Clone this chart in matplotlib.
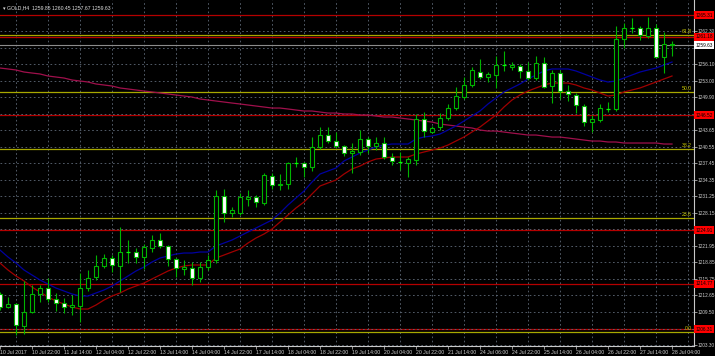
import matplotlib
matplotlib.use("Agg")
import matplotlib.pyplot as plt
import matplotlib.transforms as mtransforms

plt.rcParams['font.family'] = ['Liberation Sans', 'DejaVu Sans']

# GOLD H4 bars, 10 Jul - 28 Jul 2017
opens = [1212.89, 1210.44, 1211.00, 1206.87, 1209.50, 1212.89, 1214.02, 1211.95, 1211.19, 1210.44,
         1210.63, 1214.02, 1216.08, 1218.15, 1219.65, 1218.15, 1220.78, 1220.78, 1219.84, 1221.53,
         1223.03, 1221.90, 1219.46, 1217.58, 1217.77, 1215.89, 1217.96, 1219.27, 1231.30, 1228.11,
         1228.11, 1230.74, 1231.11, 1229.98, 1235.06, 1233.37, 1233.55, 1237.50, 1237.50, 1236.75,
         1240.50, 1242.76, 1241.63, 1240.69, 1239.37, 1239.56, 1242.01, 1240.69, 1241.25, 1238.62,
         1237.69, 1237.50, 1238.06, 1245.77, 1243.32, 1244.26, 1245.95, 1247.83, 1249.90, 1252.15,
         1254.60, 1253.66, 1254.03, 1255.91, 1255.53, 1255.72, 1254.78, 1253.47, 1256.29, 1251.97,
         1254.41, 1251.03, 1250.28, 1248.21, 1245.20, 1245.58, 1247.65, 1247.65, 1260.80, 1262.86,
         1262.86, 1261.36, 1262.86, 1257.41, 1259.85]
highs = [1213.26, 1212.32, 1211.20, 1215.33, 1214.58, 1214.58, 1215.89, 1213.08, 1212.13, 1212.72,
         1216.83, 1217.40, 1220.21, 1220.40, 1220.21, 1225.47, 1223.03, 1221.53, 1222.28, 1223.97,
         1224.35, 1222.10, 1219.70, 1219.27, 1218.90, 1218.90, 1220.21, 1232.43, 1232.61, 1229.24,
         1231.86, 1232.43, 1231.50, 1235.62, 1235.62, 1235.43, 1237.60, 1238.62, 1237.70, 1242.38,
         1244.26, 1244.26, 1243.32, 1240.80, 1241.25, 1243.70, 1242.38, 1242.38, 1242.38, 1239.37,
         1239.56, 1238.62, 1246.70, 1247.08, 1244.45, 1246.89, 1248.58, 1251.78, 1253.66, 1255.53,
         1257.04, 1254.60, 1257.60, 1258.54, 1256.47, 1256.10, 1256.47, 1257.60, 1257.41, 1254.97,
         1254.97, 1252.15, 1250.60, 1248.58, 1246.52, 1248.58, 1248.96, 1263.24, 1263.80, 1264.74,
         1263.24, 1264.93, 1263.60, 1262.11, 1260.45]
lows = [1209.90, 1210.25, 1205.18, 1205.40, 1209.30, 1211.38, 1211.40, 1209.69, 1209.31, 1208.94,
        1207.62, 1213.50, 1215.50, 1217.77, 1217.02, 1213.26, 1218.71, 1218.71, 1217.58, 1220.78,
        1221.53, 1218.15, 1216.08, 1216.40, 1214.58, 1215.14, 1217.40, 1218.71, 1226.41, 1227.35,
        1227.70, 1229.43, 1229.24, 1229.61, 1232.61, 1232.43, 1232.61, 1236.75, 1234.87, 1236.00,
        1240.10, 1241.25, 1240.32, 1238.81, 1235.62, 1239.00, 1239.37, 1239.94, 1238.25, 1237.12,
        1236.18, 1234.87, 1237.12, 1242.38, 1243.13, 1243.70, 1245.58, 1247.46, 1249.52, 1251.78,
        1253.29, 1252.72, 1251.59, 1254.78, 1254.97, 1253.47, 1253.10, 1253.10, 1251.59, 1248.77,
        1249.52, 1249.15, 1246.89, 1244.45, 1243.32, 1245.20, 1247.08, 1247.20, 1259.11, 1261.92,
        1260.61, 1260.98, 1257.20, 1254.41, 1257.67]
closes = [1210.44, 1211.00, 1207.06, 1209.50, 1212.89, 1214.02, 1211.95, 1211.19, 1210.44, 1210.81,
          1214.02, 1215.89, 1218.15, 1219.65, 1218.34, 1220.78, 1220.85, 1219.84, 1221.72, 1223.03,
          1221.90, 1219.46, 1217.77, 1217.96, 1215.89, 1217.96, 1219.27, 1231.30, 1228.11, 1228.67,
          1231.11, 1231.11, 1230.18, 1235.24, 1233.37, 1233.55, 1237.50, 1237.55, 1236.75, 1240.50,
          1242.76, 1241.63, 1240.69, 1239.37, 1239.75, 1242.01, 1240.69, 1241.25, 1238.62, 1237.87,
          1237.75, 1238.25, 1245.77, 1243.51, 1244.08, 1245.95, 1247.83, 1250.09, 1252.15, 1254.97,
          1253.66, 1254.22, 1255.91, 1255.95, 1255.91, 1254.78, 1253.47, 1256.29, 1251.78, 1254.41,
          1251.03, 1250.46, 1248.40, 1245.20, 1245.77, 1247.83, 1247.70, 1260.80, 1262.86, 1262.90,
          1261.55, 1262.86, 1257.41, 1259.86, 1259.63]

# moving averages
ma_fast = [1221.15, 1219.84, 1218.71, 1217.40, 1216.46, 1215.52, 1214.76, 1214.01, 1213.45, 1212.89,
           1212.51, 1212.51, 1213.08, 1213.64, 1214.39, 1215.33, 1216.27, 1217.21, 1217.96, 1218.90,
           1219.65, 1220.03, 1220.40, 1220.59, 1220.59, 1220.78, 1220.78, 1221.91, 1222.47, 1223.03,
           1223.79, 1224.54, 1225.29, 1226.04, 1226.79, 1228.11, 1229.61, 1230.93, 1232.24, 1233.93,
           1235.43, 1236.00, 1236.56, 1237.88, 1238.63, 1239.38, 1239.94, 1240.51, 1240.88, 1241.07,
           1241.07, 1241.07, 1242.01, 1242.39, 1242.58, 1242.95, 1243.70, 1244.46, 1245.40, 1246.34,
           1247.28, 1248.59, 1249.72, 1250.85, 1251.60, 1252.35, 1253.29, 1254.04, 1254.79, 1255.17,
           1255.17, 1255.17, 1254.79, 1254.23, 1253.66, 1253.10, 1252.72, 1252.91, 1253.47, 1254.04,
           1254.60, 1254.98, 1255.35, 1255.92, 1256.48]
ma_slow = [1218.71, 1217.40, 1216.27, 1215.33, 1214.20, 1213.26, 1212.32, 1211.57, 1211.01, 1210.45,
           1210.07, 1210.07, 1210.82, 1211.76, 1212.51, 1213.08, 1213.83, 1214.39, 1214.95, 1215.71,
           1216.46, 1217.21, 1217.77, 1218.15, 1218.34, 1218.34, 1218.34, 1219.65, 1220.21, 1220.78,
           1221.34, 1222.47, 1223.41, 1224.16, 1225.10, 1226.41, 1227.73, 1229.05, 1230.17, 1231.68,
           1233.18, 1233.75, 1234.31, 1235.43, 1236.38, 1236.94, 1237.69, 1238.25, 1238.44, 1238.63,
           1238.63, 1238.63, 1239.19, 1239.57, 1239.94, 1240.32, 1240.88, 1241.64, 1242.39, 1243.33,
           1244.27, 1245.40, 1246.52, 1248.02, 1249.34, 1250.28, 1251.03, 1251.60, 1252.16, 1252.53,
           1252.53, 1252.53, 1252.16, 1251.60, 1251.22, 1250.66, 1250.09, 1250.28, 1250.85, 1251.22,
           1251.60, 1252.16, 1252.72, 1253.29, 1253.85]
ma_long = [1255.35, 1255.17, 1254.98, 1254.60, 1254.41, 1254.23, 1253.85, 1253.66, 1253.47, 1253.10,
           1252.91, 1252.72, 1252.35, 1252.16, 1251.97, 1251.60, 1251.41, 1251.22, 1251.03, 1250.85,
           1250.66, 1250.47, 1250.28, 1250.09, 1249.90, 1249.53, 1249.34, 1249.15, 1248.96, 1248.77,
           1248.59, 1248.40, 1248.21, 1248.02, 1247.83, 1247.83, 1247.65, 1247.46, 1247.27, 1247.27,
           1247.08, 1246.89, 1246.89, 1246.71, 1246.71, 1246.52, 1246.52, 1246.33, 1246.14, 1246.14,
           1245.96, 1245.77, 1245.58, 1245.39, 1245.20, 1244.83, 1244.64, 1244.45, 1244.26, 1244.08,
           1243.70, 1243.51, 1243.51, 1243.32, 1243.13, 1242.95, 1242.76, 1242.76, 1242.57, 1242.38,
           1242.38, 1242.20, 1242.01, 1241.82, 1241.63, 1241.63, 1241.45, 1241.45, 1241.26, 1241.26,
           1241.26, 1241.26, 1241.26, 1241.07, 1241.07]

time_labels = ["10 Jul 2017", "10 Jul 22:00", "11 Jul 14:00", "12 Jul 04:00", "12 Jul 22:00",
               "13 Jul 14:00", "14 Jul 04:00", "14 Jul 22:00", "17 Jul 14:00", "18 Jul 04:00",
               "18 Jul 22:00", "19 Jul 14:00", "20 Jul 04:00", "20 Jul 22:00", "21 Jul 14:00",
               "24 Jul 06:00", "24 Jul 22:00", "25 Jul 14:00", "26 Jul 04:00", "26 Jul 22:00",
               "27 Jul 14:00", "28 Jul 04:00"]
price_ticks = [1203.30, 1206.40, 1209.50, 1212.65, 1215.75, 1218.85, 1221.95, 1225.05, 1228.15,
               1231.25, 1234.35, 1237.45, 1240.55, 1243.65, 1246.75, 1249.90, 1253.00, 1256.10,
               1259.20, 1262.30]
# tick labels hidden behind the level boxes on the price scale
price_labels = ["1203.30", "", "1209.50", "1212.65", "1215.75", "1218.85", "1221.95", "",
                "1228.15", "1231.25", "1234.35", "1237.45", "1240.55", "1243.65", "",
                "1249.90", "1253.00", "1256.10", "", "1262.30"]

sr_levels = [1265.31, 1261.18, 1246.52, 1224.91, 1214.77, 1206.31]
fib_levels = [1261.55, 1250.84, 1240.13, 1227.17, 1205.75]
fib_names = ["61.8", "50.0", "38.2", "23.6", "0.0"]
bid = 1259.63

n = len(closes)
x = list(range(n))
fs = 3.7
fs_y = 3.45

fig = plt.figure(figsize=(7.15, 3.56), dpi=100, facecolor='black')
ax = fig.add_axes([0, 10 / 356, 694 / 715, 346 / 356])
ax.set_facecolor('black')

ax.set_xlim(0, 86.75)
ax.set_ylim(1203.12, 1268.13)

# grid
grid_col = '#5f6a78'
for gx in range(2, 88, 4):
    ax.axvline(gx, color=grid_col, lw=0.6, ls=(0, (2, 3)), zorder=0)
ax.set_yticks(price_ticks)
ax.grid(axis='y', color=grid_col, lw=0.6, ls=(0, (2, 3)), zorder=0)

# horizontal levels
for lv in sr_levels:
    ax.axhline(lv, color='#b40000', lw=0.9, zorder=1)
for lv in fib_levels:
    ax.axhline(lv, color='#a8a800', lw=0.9, zorder=1)
ax.axhline(bid, color='#8c8c8c', lw=0.8, zorder=1)

# moving averages
ax.plot(x, ma_long, color='#a0104c', lw=0.9, zorder=2)
ax.plot(x, ma_slow, color='#a00000', lw=0.9, zorder=2)
ax.plot(x, ma_fast, color='#0000a0', lw=0.9, zorder=2)

# candles
green = '#00b400'
ax.vlines(x, lows, highs, color=green, lw=0.8, zorder=3)
for i in range(n):
    o, c = opens[i], closes[i]
    lo = min(o, c)
    h = abs(c - o)
    if h < 0.15:
        ax.hlines(o, i - 0.3, i + 0.3, color='#00ff00', lw=0.9, zorder=4)
        continue
    fill = 'black' if c > o else 'white'
    ax.bar(i, h, bottom=lo, width=0.62, color=fill, edgecolor=green, lw=0.8, zorder=4)

# axes styling
for s in ['left', 'top']:
    ax.spines[s].set_visible(False)
ax.spines['right'].set_color('#c8c8c8')
ax.spines['bottom'].set_color('#c8c8c8')
ax.spines['right'].set_linewidth(0.8)
ax.spines['bottom'].set_linewidth(0.8)
ax.yaxis.tick_right()
ax.set_yticklabels(price_labels)
ax.tick_params(axis='y', colors='#d0d0d0', labelsize=fs_y, length=2, pad=0.8, width=0.5)
ax.set_xticks(range(0, 4 * len(time_labels), 4))
ax.set_xticklabels(time_labels, ha='left')
ax.tick_params(axis='x', colors='#d0d0d0', labelsize=fs, length=2, pad=1, width=0.5)

trans = mtransforms.blended_transform_factory(ax.transAxes, ax.transData)
for lv in sr_levels:
    ax.text(1.002, lv, "%.2f" % lv, transform=trans, fontsize=fs_y, color='black', va='center',
            ha='left', clip_on=False, zorder=6,
            bbox=dict(boxstyle='square,pad=0.3', fc='#ff0000', ec='none'))
ax.text(1.002, bid, "%.2f" % bid, transform=trans, fontsize=fs_y, color='black', va='center',
        ha='left', clip_on=False, zorder=6,
        bbox=dict(boxstyle='square,pad=0.3', fc='white', ec='none'))
for lv, name in zip(fib_levels, fib_names):
    ax.text(0.997, lv + 0.25, name, transform=trans, fontsize=fs, color='#c8c800',
            va='bottom', ha='right', zorder=5)

fig.text(0.004, 0.985, "\u25be GOLD,H4  1259.85 1260.45 1257.67 1259.63", color='#e0e0e0',
         fontsize=fs, va='top', ha='left')

fig.savefig('out.png', dpi=100, facecolor='black')
